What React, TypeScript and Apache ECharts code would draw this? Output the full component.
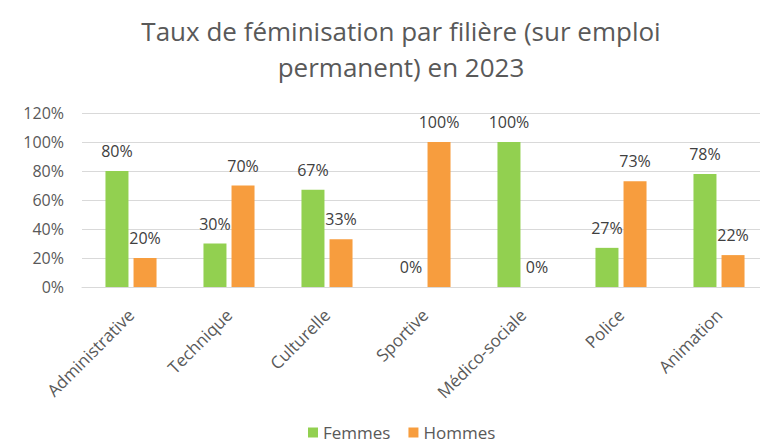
import React, { useEffect, useRef } from "react";
import * as echarts from "echarts";

const categories = ["Administrative", "Technique", "Culturelle", "Sportive", "Médico-sociale", "Police", "Animation"];
const femmes = [80, 30, 67, 0, 100, 27, 78];
const hommes = [20, 70, 33, 100, 0, 73, 22];
const yTicks = [0, 20, 40, 60, 80, 100, 120];

const FONT = "'Open Sans', sans-serif";
const GRAY = "#595959";

export default function App() {
  const ref = useRef<HTMLDivElement>(null);
  useEffect(() => {
    if (!ref.current) return;
    const chart = echarts.init(ref.current, undefined, { renderer: "svg" });
    const label = {
      show: true,
      position: "top",
      distance: 12,
      formatter: (p: any) => `${p.value}%`,
      color: "#404040",
      fontSize: 16,
      fontFamily: FONT,
    };
    chart.setOption({
      animation: false,
      backgroundColor: "#ffffff",
      title: {
        text: "Taux de féminisation par filière (sur emploi\npermanent) en 2023",
        left: 396,
        top: 8,
        textAlign: "center",
        textStyle: {
          color: GRAY,
          fontSize: 26,
          fontWeight: "normal",
          fontFamily: FONT,
          lineHeight: 36,
        },
      },
      legend: {
        top: 424,
        left: 308,
        padding: 0,
        itemWidth: 10,
        itemHeight: 10,
        itemGap: 18,
        icon: "rect",
        textStyle: { color: GRAY, fontSize: 17, lineHeight: 17, fontFamily: FONT },
        data: ["Femmes", "Hommes"],
      },
      grid: { left: 82, right: 12, top: 113, bottom: 157 },
      xAxis: {
        type: "category",
        data: categories,
        axisTick: { show: false },
        axisLine: { lineStyle: { color: "#d9d9d9" } },
        axisLabel: {
          rotate: 45,
          interval: 0,
          color: GRAY,
          fontSize: 17,
          fontFamily: FONT,
          margin: 25,
        },
      },
      yAxis: {
        type: "value",
        min: 0,
        max: 120,
        interval: 20,
        axisLine: { show: false },
        axisTick: { show: false },
        splitLine: { lineStyle: { color: "#d9d9d9" } },
        axisLabel: {
          formatter: (v: number) => (yTicks.includes(v) ? `${v}%` : ""),
          color: GRAY,
          fontSize: 16,
          fontFamily: FONT,
          margin: 18,
        },
      },
      series: [
        {
          name: "Femmes",
          type: "bar",
          data: femmes,
          barWidth: 23,
          barGap: "22%",
          itemStyle: { color: "#92d050" },
          label,
        },
        {
          name: "Hommes",
          type: "bar",
          data: hommes,
          barWidth: 23,
          itemStyle: { color: "#f79d3e" },
          label,
        },
      ],
    });
    return () => chart.dispose();
  }, []);
  return (
    <div style={{ position: "absolute", left: 0, top: 0, width: 760, height: 444, overflow: "hidden" }}>
      <div ref={ref} style={{ width: 780, height: 444 }} />
    </div>
  );
}
